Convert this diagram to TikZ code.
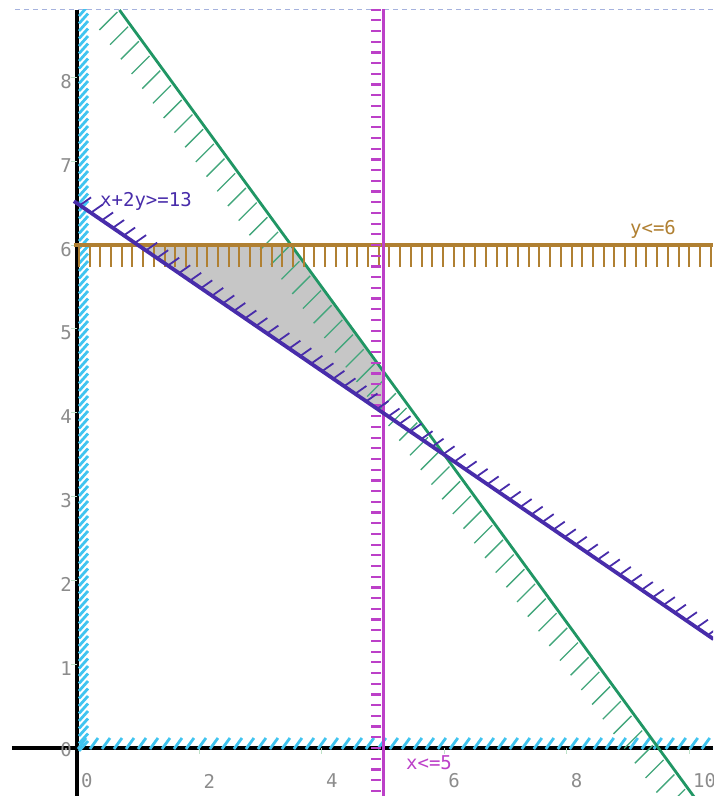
\documentclass[tikz,border=0pt]{standalone}
\usepackage{fontspec}
\usetikzlibrary{calc}
\newfontfamily\plotfont{DejaVu Sans Mono}
\definecolor{axisgray}{RGB}{140,140,140}
\definecolor{tickgreen}{RGB}{190,225,200}
\definecolor{hatchcyan}{RGB}{64,196,240}
\definecolor{lineblue}{RGB}{72,44,170}
\definecolor{linegreen}{RGB}{32,150,100}
\definecolor{linebrown}{RGB}{176,128,50}
\definecolor{linemagenta}{RGB}{188,64,200}
\definecolor{regiongray}{RGB}{198,198,198}
\definecolor{frameblue}{RGB}{165,178,222}

\begin{document}
\begin{tikzpicture}[x=61.2pt,y=83.8pt,
    numlbl/.style={font=\plotfont\fontsize{19}{19}\selectfont,text=axisgray,inner sep=0pt},
    eqlbl/.style={font=\plotfont\fontsize{19}{19}\selectfont,inner sep=0pt},
    axisline/.style={black,line width=3.2pt},
    tickmark/.style={tickgreen,line width=1pt},
    cyanhatch/.style={hatchcyan,line width=2.8pt},
    bluehatch/.style={lineblue,line width=1.8pt},
    greenhatch/.style={linegreen!85,line width=1.3pt},
    brownhatch/.style={linebrown,line width=2pt},
    magtick/.style={linemagenta,line width=2.2pt}]

  \useasboundingbox (-77pt,-48pt) rectangle (636pt,748pt);

  % cadre du haut
  \draw[frameblue,line width=1pt,dash pattern=on 5pt off 4pt] (-62pt,738pt) -- (636pt,738pt);

  \begin{scope}
    \clip (-77pt,-48pt) rectangle (636pt,738pt);

    % region admissible
    \fill[regiongray] (1,6) -- (3.5,6) -- (5,4.5) -- (5,4) -- cycle;

    % axes
    \draw[axisline] (-65pt,0) -- (636pt,0);
    \draw[axisline] (0,-48pt) -- (0,738pt);
    \foreach \k in {1,...,8}
      \draw[tickmark] (0,\k) -- ++(-6pt,0);
    \foreach \k in {2,4,...,10}
      \draw[tickmark] (\k,0) -- ++(0,-6pt);

    % x>=0 et y>=0
    \foreach \i in {0,...,100}
      \draw[cyanhatch] (0,{\i*0.0895}) ++(2pt,-3pt) -- ++(9pt,10pt);
    \foreach \i in {0,...,53}
      \draw[cyanhatch] ({\i*0.196},0) ++(1pt,-1pt) -- ++(8pt,11pt);

    % x+y<=9.5
    \foreach \i in {0,...,54}
      \draw[greenhatch] ({0.693+\i*0.175},{8.807-\i*0.175}) ++(-2pt,-2pt) -- ++(-18pt,-18pt);
    \draw[linegreen,line width=2.8pt] (0.693,8.807) -- (10.2,-0.7);

    % y<=6
    \foreach \i in {0,...,59}
      \draw[brownhatch] ({0.03+\i*0.175},6) -- ++(0,-22pt);
    \draw[linebrown,line width=3.4pt] (-0.05,6) -- (10.4,6);

    % x<=5
    \foreach \i in {-4,...,69}
      \draw[magtick] (5,{\i*0.1277}) ++(-2pt,0) -- ++(-10pt,0);
    \draw[linemagenta,line width=3pt] (5,-0.6) -- (5,8.9);

    % x+2y>=13
    \foreach \i in {0,...,57}
      \draw[bluehatch] ({0.05+\i*0.18},{(13-0.05-\i*0.18)/2}) ++(1pt,1pt) -- ++(10pt,7pt);
    \draw[lineblue,line width=3.8pt] (-0.05,6.525) -- (10.4,1.3);
  \end{scope}

  % graduations
  \foreach \k in {1,...,8}
    \node[numlbl,anchor=east,xshift=-5pt,yshift=-4pt] (ylbl\k) at (0,\k) {\k};
  \node[numlbl,anchor=east,xshift=-5pt,yshift=-2pt] (ylbl0) at (0,0) {0};
  \foreach \k in {0,2,...,10}
    \node[numlbl,anchor=west,xshift=4pt,yshift=-33pt] (xlbl\k) at (\k,0) {\k};

  % contraintes
  \node[eqlbl,text=lineblue] (lblblue) at (69pt,547pt) {x+2y>=13};
  \node[eqlbl,text=linebrown] (lblbrown) at (576pt,519pt) {y<=6};
  \node[eqlbl,text=linemagenta] (lblmag) at (352pt,-15pt) {x<=5};
\end{tikzpicture}
\end{document}
